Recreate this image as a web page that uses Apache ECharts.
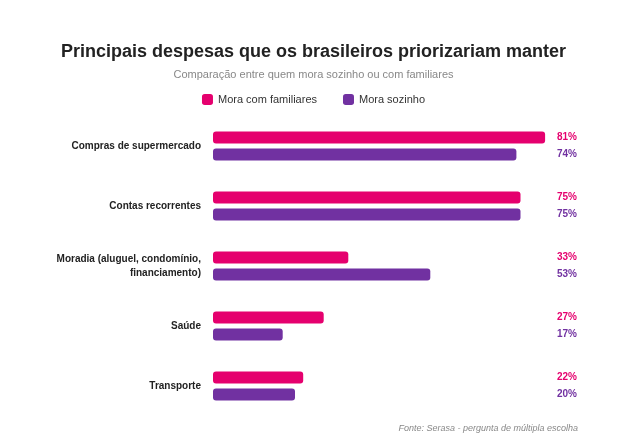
<!DOCTYPE html>
<html>
<head>
<meta charset="utf-8">
<script src="https://cdn.jsdelivr.net/npm/echarts@6/dist/echarts.min.js"></script>
<style>
  html, body { margin: 0; padding: 0; background: #fff; }
  #chart { width: 627px; height: 444px; }
</style>
</head>
<body>
<div id="chart"></div>
<script>
// Chart data
var categories = [
  "Compras de supermercado",
  "Contas recorrentes",
  "Moradia (aluguel, condomínio,\nfinanciamento)",
  "Saúde",
  "Transporte"
];
var familiares = [81, 75, 33, 27, 22];
var sozinho = [74, 75, 53, 17, 20];

var PINK = "#e5006e";
var PURPLE = "#7131a1";
var FONT = "Liberation Sans, Arial, sans-serif";

var gridLeft = 213;
var labelX = 344; // distance from bar start to the value labels

var chart = echarts.init(document.getElementById("chart"));

function valueLabel(color) {
  return {
    show: true,
    position: [labelX, "50%"],
    verticalAlign: "middle",
    formatter: "{c}%",
    color: color,
    fontFamily: FONT,
    fontWeight: "bold",
    fontSize: 10
  };
}

chart.setOption({
  animation: false,
  title: {
    text: "Principais despesas que os brasileiros priorizariam manter",
    subtext: "Comparação entre quem mora sozinho ou com familiares",
    left: "center",
    top: 38,
    itemGap: 8,
    textStyle: { fontFamily: FONT, fontSize: 18, fontWeight: "bold", color: "#222" },
    subtextStyle: { fontFamily: FONT, fontSize: 11, color: "#888" }
  },
  legend: {
    top: 89,
    left: "center",
    icon: "roundRect",
    itemWidth: 11,
    itemHeight: 11,
    itemGap: 26,
    textStyle: { fontFamily: FONT, fontSize: 11, color: "#333" },
    data: ["Mora com familiares", "Mora sozinho"]
  },
  grid: { left: gridLeft, width: 410, top: 116, height: 300 },
  xAxis: {
    type: "value",
    min: 0,
    max: 100,
    show: false
  },
  yAxis: {
    type: "category",
    inverse: true,
    data: categories,
    axisLine: { show: false },
    axisTick: { show: false },
    axisLabel: {
      margin: 12,
      fontFamily: FONT,
      fontSize: 10,
      fontWeight: "bold",
      color: "#222",
      lineHeight: 14,
      align: "right"
    }
  },
  series: [
    {
      name: "Mora com familiares",
      type: "bar",
      data: familiares,
      barWidth: 12,
      barGap: "40%",
      itemStyle: { color: PINK, borderRadius: 3 },
      label: valueLabel(PINK)
    },
    {
      name: "Mora sozinho",
      type: "bar",
      data: sozinho,
      barWidth: 12,
      itemStyle: { color: PURPLE, borderRadius: 3 },
      label: valueLabel(PURPLE)
    }
  ],
  graphic: [
    {
      type: "text",
      right: 49,
      top: 424,
      style: {
        text: "Fonte: Serasa - pergunta de múltipla escolha",
        fontFamily: FONT,
        fontSize: 9,
        fontStyle: "italic",
        fill: "#888"
      }
    }
  ]
});
</script>
</body>
</html>
